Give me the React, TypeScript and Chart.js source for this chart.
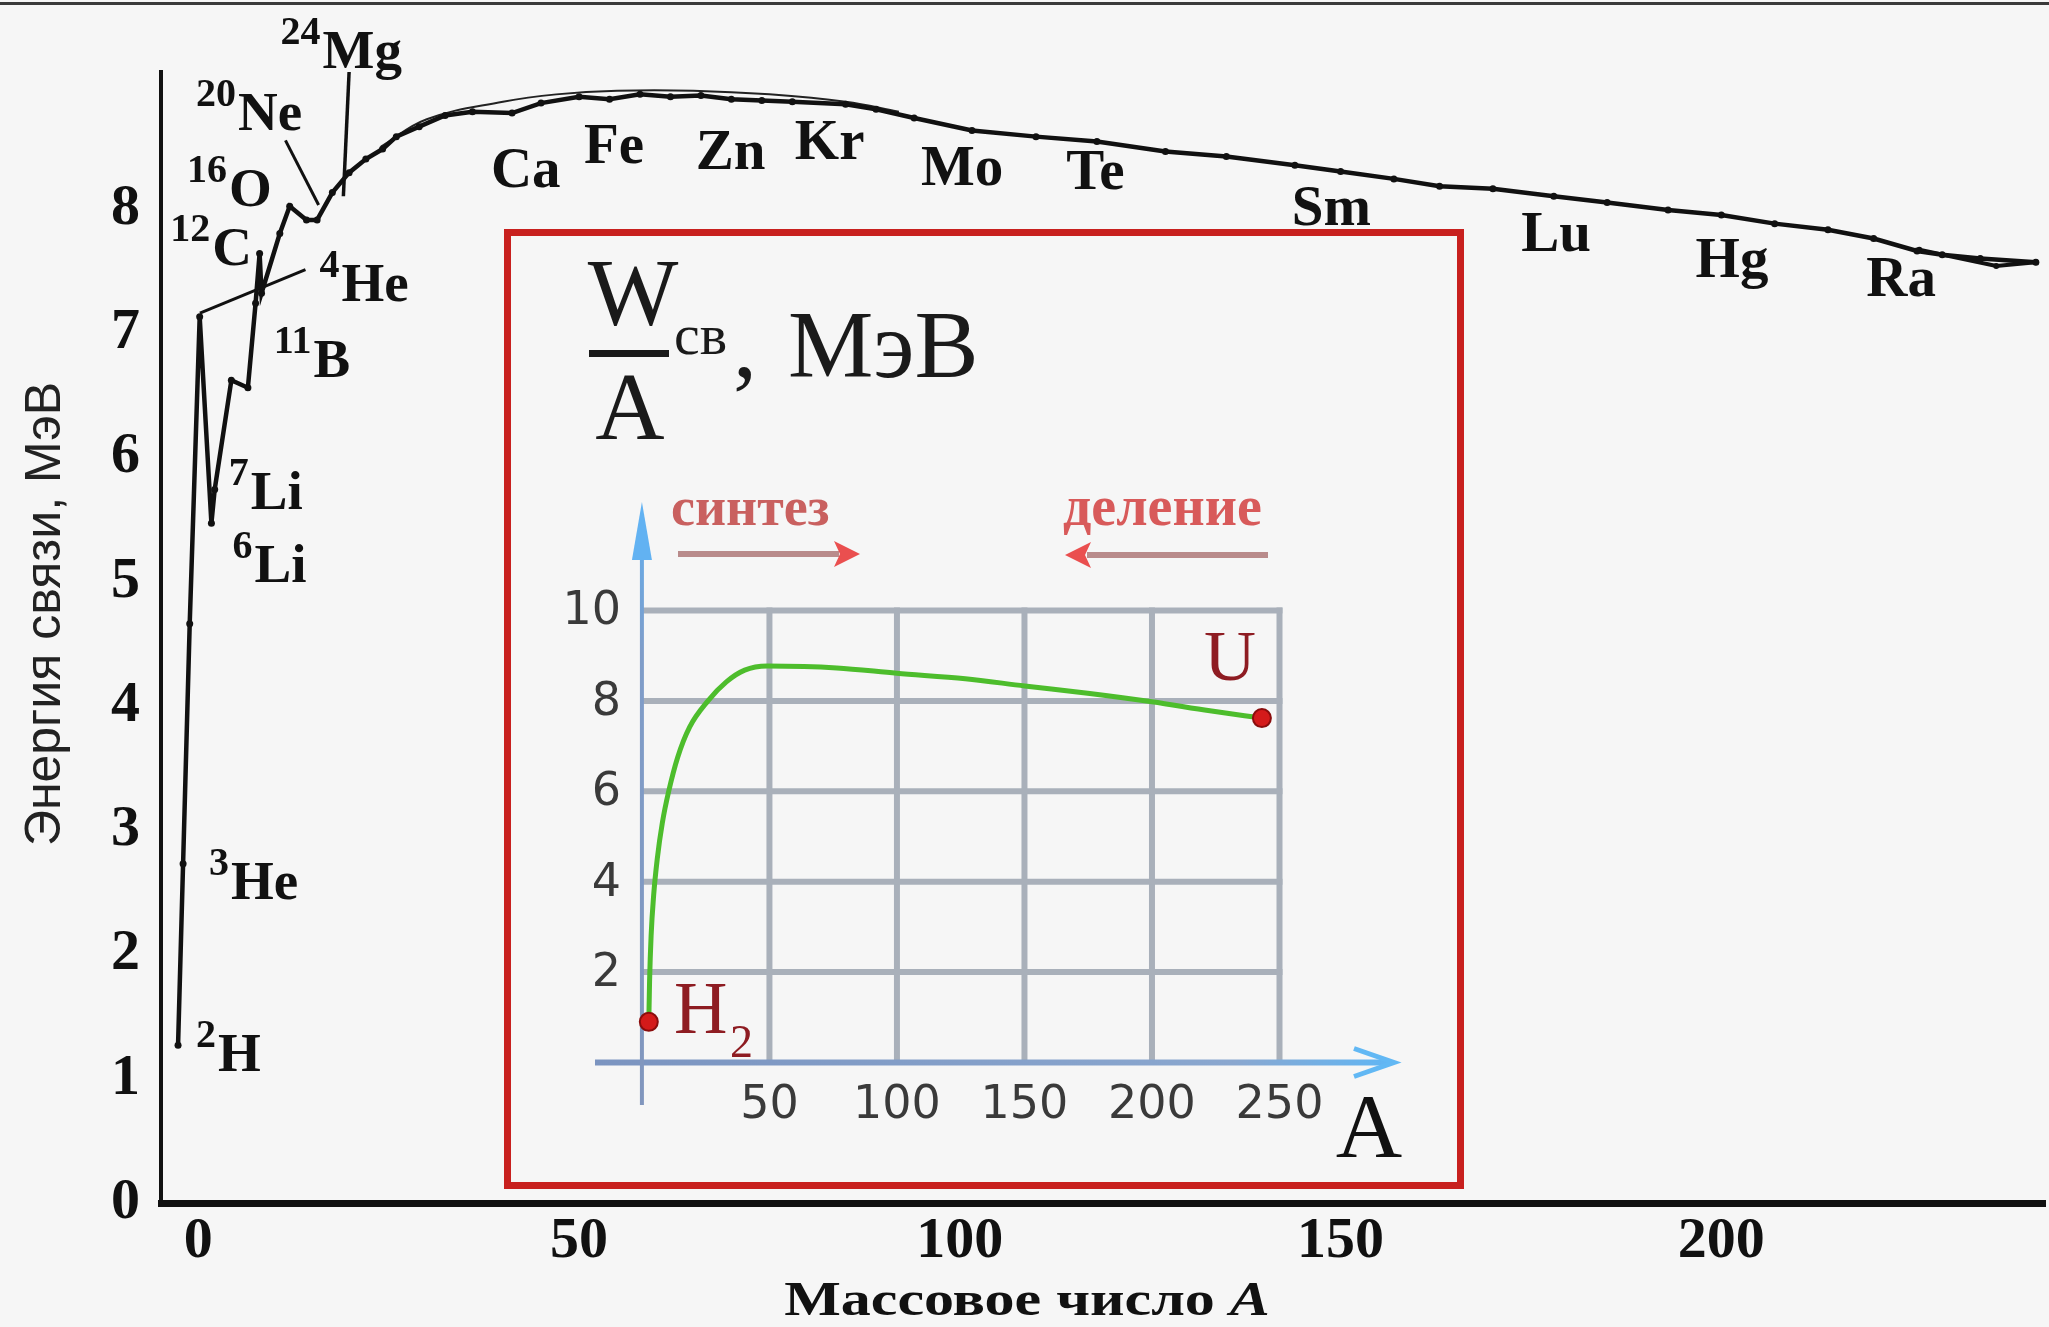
import React, { useEffect, useRef } from "react";
import { Chart, registerables } from "chart.js";

Chart.register(...registerables);

// ---------- main chart data (mass number A, binding energy per nucleon, MeV) ----------
const massNumber = [-2.66, -2.0, -1.13, 0.18, 1.72, 2.15, 4.34, 6.51, 7.52, 8.05, 8.3, 10.7, 12.0, 14.2, 15.6, 17.6, 19.8, 22, 24.2, 26, 29, 32.4, 36, 41.2, 45, 50, 54, 58, 62, 66, 70, 74, 78, 85, 89, 94, 101.6, 110, 118, 127, 135, 144, 150, 157, 163, 170, 178, 185, 193, 200, 207, 214, 220, 225.7, 229, 234, 241.3];
const bindingEnergy = [1.27, 2.73, 4.66, 7.13, 5.47, 5.74, 6.62, 6.56, 7.24, 7.64, 7.32, 7.8, 8.02, 7.91, 7.91, 8.13, 8.29, 8.4, 8.48, 8.58, 8.66, 8.75, 8.78, 8.77, 8.85, 8.9, 8.88, 8.92, 8.9, 8.91, 8.88, 8.87, 8.86, 8.84, 8.8, 8.73, 8.63, 8.58, 8.54, 8.46, 8.42, 8.35, 8.3, 8.24, 8.18, 8.16, 8.1, 8.05, 7.99, 7.95, 7.88, 7.83, 7.76, 7.66, 7.63, 7.6, 7.57];

const envelopeA = [24, 30, 40, 47, 55, 65, 75, 85, 92];
const envelopeE = [8.5, 8.72, 8.86, 8.92, 8.95, 8.95, 8.92, 8.86, 8.78];

const heavyBranchA = [226, 236.1, 241.3];
const heavyBranchE = [7.67, 7.54, 7.57];

const mgLeaderA = [19.8, 19.05];
const mgLeaderE = [9.1, 8.1];
const neLeaderA = [11.44, 15.8];
const neLeaderE = [8.55, 8.03];
const he4LeaderA = [0.21, 14.07];
const he4LeaderE = [7.16, 7.51];

const xTickValues = [0, 50, 100, 150, 200];
const yTickValues = [0, 1, 2, 3, 4, 5, 6, 7, 8];

const xTitle = "Массовое число ";
const xTitleVar = "A";
const yTitle = "Энергия связи, МэВ";

const elementNames = ["Ca", "Fe", "Zn", "Kr", "Mo", "Te", "Sm", "Lu", "Hg", "Ra"];
const elementA = [43, 54.6, 69.9, 82.9, 100.3, 117.8, 148.8, 178.3, 201.4, 223.6];
const elementE = [8.29, 8.49, 8.44, 8.52, 8.31, 8.28, 7.99, 7.78, 7.57, 7.42];

const isoMass = ["24", "20", "16", "12", "4", "11", "7", "6", "3", "2"];
const isoSymbol = ["Mg", "Ne", "O", "C", "He", "B", "Li", "Li", "He", "H"];
const isoA = [10.8, -0.3, -1.5, -3.7, 15.9, 9.9, 4.0, 4.5, 1.4, -0.3];
const isoE = [9.13, 8.63, 8.02, 7.55, 7.26, 6.65, 5.58, 5.0, 2.45, 1.06];

// ---------- inset chart data ----------
const insetA = [2.7, 3.0, 3.6, 4.6, 6.0, 8.0, 10.5, 14.0, 18.7, 25.9, 33.1, 40.3, 49.2, 76.4, 99.9, 126.8, 150.1, 174.8, 200, 222.7, 243.1];
const insetE = [0.9, 1.8, 2.8, 3.7, 4.5, 5.3, 6.0, 6.75, 7.42, 8.0, 8.42, 8.68, 8.77, 8.73, 8.61, 8.49, 8.33, 8.17, 7.98, 7.78, 7.62];
const insetMarkerA = [2.7, 243.1];
const insetMarkerE = [0.9, 7.62];
const insetXTicks = [50, 100, 150, 200, 250];
const insetYTicks = [2, 4, 6, 8, 10];

const SERIF = "'Liberation Serif', 'DejaVu Serif', serif";
const SANS = "'Liberation Sans', Arial, sans-serif";
const DEJAVU = "'DejaVu Sans', sans-serif";

const pts = (xs: number[], ys: number[]) => xs.map((x, i) => ({ x, y: ys[i] }));

const mainLabelPlugin = {
  id: "mainLabels",
  afterDatasetsDraw(chart: any) {
    const { ctx } = chart;
    const xs = chart.scales.x;
    const ys = chart.scales.y;
    ctx.save();
    ctx.fillStyle = "#111";
    ctx.textAlign = "center";
    ctx.textBaseline = "middle";
    ctx.font = `bold 57px ${SERIF}`;
    elementNames.forEach((n, i) => {
      ctx.fillText(n, xs.getPixelForValue(elementA[i]), ys.getPixelForValue(elementE[i]));
    });
    ctx.textAlign = "left";
    ctx.textBaseline = "alphabetic";
    isoSymbol.forEach((s, i) => {
      const px = xs.getPixelForValue(isoA[i]);
      const py = ys.getPixelForValue(isoE[i]);
      ctx.font = `bold 40px ${SERIF}`;
      ctx.fillText(isoMass[i], px, py - 24);
      const w = ctx.measureText(isoMass[i]).width;
      ctx.font = `bold 55px ${SERIF}`;
      ctx.fillText(s, px + w + 2, py);
    });
    ctx.restore();
  },
  afterDraw(chart: any) {
    const { ctx } = chart;
    ctx.save();
    // y axis title
    ctx.translate(46, 614);
    ctx.rotate(-Math.PI / 2);
    ctx.fillStyle = "#222";
    ctx.font = `50px ${SANS}`;
    ctx.textAlign = "center";
    ctx.textBaseline = "middle";
    ctx.fillText(yTitle, 0, 0);
    ctx.restore();
    // x axis title (horizontally stretched like the source)
    ctx.save();
    ctx.translate(1027, 1303);
    ctx.scale(1.25, 1);
    ctx.fillStyle = "#111";
    ctx.textBaseline = "middle";
    ctx.textAlign = "left";
    ctx.font = `bold 48px ${SERIF}`;
    const w1 = ctx.measureText(xTitle).width;
    ctx.font = `italic bold 48px ${SERIF}`;
    const w2 = ctx.measureText(xTitleVar).width;
    const start = -(w1 + w2) / 2;
    ctx.font = `bold 48px ${SERIF}`;
    ctx.fillText(xTitle, start, 0);
    ctx.font = `italic bold 48px ${SERIF}`;
    ctx.fillText(xTitleVar, start + w1, 0);
    ctx.restore();
  },
};

const insetPlugin = {
  id: "insetDecor",
  beforeDatasetsDraw(chart: any) {
    const { ctx } = chart;
    const xs = chart.scales.x;
    const ys = chart.scales.y;
    const x0 = xs.getPixelForValue(0);
    const y0 = ys.getPixelForValue(0);
    const xEnd = xs.getPixelForValue(insetXTicks[insetXTicks.length - 1]);
    const yTop = ys.getPixelForValue(insetYTicks[insetYTicks.length - 1]);
    ctx.save();
    // grid
    ctx.strokeStyle = "#a9b0ba";
    ctx.lineWidth = 6;
    insetXTicks.forEach((v) => {
      const px = xs.getPixelForValue(v);
      ctx.beginPath();
      ctx.moveTo(px, y0);
      ctx.lineTo(px, yTop - 3);
      ctx.stroke();
    });
    insetYTicks.forEach((v) => {
      const py = ys.getPixelForValue(v);
      ctx.beginPath();
      ctx.moveTo(x0, py);
      ctx.lineTo(xEnd + 3, py);
      ctx.stroke();
    });
    // x axis with arrow
    const area = chart.chartArea;
    const gx = ctx.createLinearGradient(area.left, 0, area.right, 0);
    gx.addColorStop(0, "#7b94c0");
    gx.addColorStop(0.8, "#8aa7cf");
    gx.addColorStop(1, "#5fb6f5");
    ctx.strokeStyle = gx;
    ctx.lineWidth = 6;
    ctx.beginPath();
    ctx.moveTo(area.left, y0);
    ctx.lineTo(area.right - 4, y0);
    ctx.stroke();
    ctx.strokeStyle = "#62b8f4";
    ctx.lineWidth = 5;
    ctx.beginPath();
    ctx.moveTo(area.right - 40, y0 - 14);
    ctx.lineTo(area.right, y0);
    ctx.lineTo(area.right - 40, y0 + 14);
    ctx.stroke();
    // y axis with arrow
    const gy = ctx.createLinearGradient(0, area.bottom, 0, area.top);
    gy.addColorStop(0, "#8196bd");
    gy.addColorStop(0.75, "#7f9dc9");
    gy.addColorStop(1, "#5fb0f2");
    ctx.strokeStyle = gy;
    ctx.lineWidth = 4;
    ctx.beginPath();
    ctx.moveTo(x0, area.bottom);
    ctx.lineTo(x0, area.top + 20);
    ctx.stroke();
    ctx.fillStyle = "#62b2f2";
    ctx.beginPath();
    ctx.moveTo(x0, area.top);
    ctx.lineTo(x0 - 10, area.top + 58);
    ctx.lineTo(x0 + 10, area.top + 58);
    ctx.closePath();
    ctx.fill();
    // tick labels
    ctx.fillStyle = "#3a3a3a";
    ctx.font = `46px ${DEJAVU}`;
    ctx.textAlign = "center";
    ctx.textBaseline = "alphabetic";
    insetXTicks.forEach((v) => {
      ctx.fillText(String(v), xs.getPixelForValue(v), 889);
    });
    ctx.textAlign = "right";
    ctx.textBaseline = "middle";
    insetYTicks.forEach((v) => {
      ctx.fillText(String(v), 117, ys.getPixelForValue(v) + 2);
    });
    ctx.restore();
  },
  afterDraw(chart: any) {
    const { ctx } = chart;
    ctx.save();
    ctx.fillStyle = "#1a1a1a";
    ctx.textBaseline = "alphabetic";
    ctx.textAlign = "center";
    ctx.font = `96px ${SERIF}`;
    ctx.fillText("W", 129, 96);
    ctx.fillRect(85, 121, 80, 7);
    ctx.fillText("A", 126, 210);
    ctx.textAlign = "left";
    ctx.font = `58px ${SERIF}`;
    ctx.fillText("св", 170, 125);
    ctx.font = `96px ${SERIF}`;
    ctx.fillText(",", 229, 148);
    ctx.fillText("МэВ", 284, 148);
    // fusion / fission annotations
    ctx.font = `bold 54px ${SERIF}`;
    ctx.fillStyle = "#c9605f";
    ctx.fillText("синтез", 167, 296);
    ctx.fillStyle = "#d85a5a";
    ctx.font = `bold 56px ${SERIF}`;
    ctx.fillText("деление", 559, 296);
    // arrows
    ctx.lineWidth = 6;
    ctx.strokeStyle = "#b98b8b";
    ctx.beginPath();
    ctx.moveTo(174, 325);
    ctx.lineTo(335, 325);
    ctx.stroke();
    ctx.fillStyle = "#ea4f4f";
    ctx.beginPath();
    ctx.moveTo(356, 325);
    ctx.lineTo(330, 312);
    ctx.lineTo(336, 325);
    ctx.lineTo(330, 338);
    ctx.closePath();
    ctx.fill();
    ctx.strokeStyle = "#b98b8b";
    ctx.beginPath();
    ctx.moveTo(764, 326);
    ctx.lineTo(583, 326);
    ctx.stroke();
    ctx.beginPath();
    ctx.moveTo(561, 326);
    ctx.lineTo(587, 313);
    ctx.lineTo(581, 326);
    ctx.lineTo(587, 339);
    ctx.closePath();
    ctx.fill();
    // point labels
    ctx.fillStyle = "#8e1c22";
    ctx.textAlign = "center";
    ctx.font = `72px ${SERIF}`;
    ctx.fillText("U", 726, 451);
    ctx.textAlign = "left";
    ctx.font = `74px ${SERIF}`;
    ctx.fillText("H", 170, 804);
    ctx.font = `46px ${SERIF}`;
    ctx.fillText("2", 226, 828);
    // axis letter
    ctx.fillStyle = "#111";
    ctx.textAlign = "center";
    ctx.font = `92px ${SERIF}`;
    ctx.fillText("A", 865, 928);
    ctx.restore();
  },
};

export default function App() {
  const mainRef = useRef<HTMLCanvasElement>(null);
  const insetRef = useRef<HTMLCanvasElement>(null);

  useEffect(() => {
    const tickFont = { family: SERIF, size: 58, weight: "bold" as const };
    const main = new Chart(mainRef.current as HTMLCanvasElement, {
      type: "line",
      data: {
        datasets: [
          {
            data: pts(massNumber, bindingEnergy),
            borderColor: "#111",
            borderWidth: 4.5,
            pointRadius: 3.5,
            pointBackgroundColor: "#111",
            pointBorderWidth: 0,
            tension: 0,
            clip: false,
          },
          {
            data: pts(envelopeA, envelopeE),
            borderColor: "#222",
            borderWidth: 2,
            pointRadius: 0,
            tension: 0.4,
          },
          {
            data: pts(heavyBranchA, heavyBranchE),
            borderColor: "#111",
            borderWidth: 4,
            pointRadius: 3,
            pointBackgroundColor: "#111",
            pointBorderWidth: 0,
          },
          { data: pts(mgLeaderA, mgLeaderE), borderColor: "#111", borderWidth: 3.5, pointRadius: 0, clip: false },
          { data: pts(neLeaderA, neLeaderE), borderColor: "#111", borderWidth: 3, pointRadius: 0, clip: false },
          { data: pts(he4LeaderA, he4LeaderE), borderColor: "#111", borderWidth: 3, pointRadius: 0, clip: false },
        ],
      },
      options: {
        responsive: false,
        animation: false,
        events: [],
        layout: { padding: { top: 72, left: 0, right: 0, bottom: 0 } },
        plugins: { legend: { display: false }, tooltip: { enabled: false } },
        scales: {
          x: {
            type: "linear",
            min: -4.9,
            max: 242.5,
            grid: { display: false, drawTicks: false },
            border: { display: true, color: "#111", width: 7 },
            ticks: { padding: 4, color: "#111", font: tickFont, autoSkip: false, maxRotation: 0 },
            afterBuildTicks: (s: any) => {
              s.ticks = xTickValues.map((v) => ({ value: v }));
            },
            afterFit: (s: any) => {
              s.height = 124;
            },
          },
          y: {
            type: "linear",
            min: 0,
            max: 9.1,
            grid: { display: false, drawTicks: false },
            border: { display: true, color: "#111", width: 4 },
            ticks: { padding: 21, color: "#111", font: tickFont, autoSkip: false },
            afterBuildTicks: (s: any) => {
              s.ticks = yTickValues.map((v) => ({ value: v }));
            },
            afterFit: (s: any) => {
              s.width = 161;
            },
          },
        },
      },
      plugins: [mainLabelPlugin],
    } as any);

    const inset = new Chart(insetRef.current as HTMLCanvasElement, {
      type: "line",
      data: {
        datasets: [
          {
            data: pts(insetMarkerA, insetMarkerE),
            showLine: false,
            pointRadius: 9,
            pointBackgroundColor: "#d41a1a",
            pointBorderColor: "#8a0d0d",
            pointBorderWidth: 2,
          },
          {
            data: pts(insetA, insetE),
            borderColor: "#4dbd2c",
            borderWidth: 5,
            pointRadius: 0,
            cubicInterpolationMode: "monotone",
          },
        ],
      },
      options: {
        responsive: false,
        animation: false,
        events: [],
        layout: { padding: { left: 91, right: 70, top: 273, bottom: 84 } },
        plugins: { legend: { display: false }, tooltip: { enabled: false } },
        scales: {
          x: { type: "linear", display: false, min: -18.4, max: 294.9 },
          y: { type: "linear", display: false, min: -0.94, max: 12.4 },
        },
      },
      plugins: [insetPlugin],
    } as any);

    return () => {
      main.destroy();
      inset.destroy();
    };
  }, []);

  return (
    <div
      style={{
        position: "fixed",
        left: 0,
        top: 0,
        width: 2049,
        height: 1327,
        background: "#f6f6f6",
        overflow: "hidden",
      }}
    >
      <div style={{ position: "absolute", left: 0, top: 2, width: 2049, height: 3, background: "#3a3a3a" }} />
      <canvas
        ref={mainRef}
        width={2049}
        height={1327}
        style={{ position: "absolute", left: 0, top: 0, width: 2049, height: 1327 }}
      />
      <div
        style={{
          position: "absolute",
          left: 504,
          top: 229,
          width: 960,
          height: 960,
          boxSizing: "border-box",
          border: "7px solid #c8201e",
          background: "#f6f6f6",
        }}
      />
      <canvas
        ref={insetRef}
        width={960}
        height={960}
        style={{ position: "absolute", left: 504, top: 229, width: 960, height: 960 }}
      />
    </div>
  );
}
